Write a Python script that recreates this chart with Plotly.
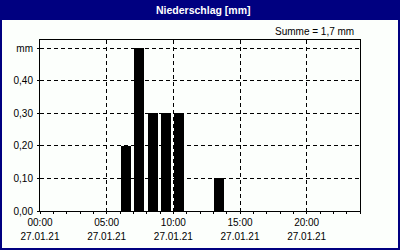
import plotly.graph_objects as go

# Data
times = ["2021-01-27 06:00", "2021-01-27 07:00", "2021-01-27 08:00",
         "2021-01-27 09:00", "2021-01-27 10:00", "2021-01-27 13:00"]
values = [0.2, 0.5, 0.3, 0.3, 0.3, 0.1]
y_tickvals = [0.0, 0.1, 0.2, 0.3, 0.4, 0.5]
y_ticktext = ["0,00", "0,10", "0,20", "0,30", "0,40", "mm"]
title_text = "Niederschlag [mm]"
sum_text = "Summe = 1,7 mm"

NAVY = "#000080"
BG = "#FCFFFC"
FONT = "Liberation Sans"
HOUR = 3600000

W, H = 400, 250
L, R, T, B = 40, 40, 40, 39

def px_x(p):
    return (p - L) / (W - L - R)

def px_y(p):
    return (H - B - p) / (H - T - B)

fig = go.Figure()
fig.add_trace(go.Bar(
    x=times, y=values, width=[0.75 * HOUR] * len(times), offset=0.07 * HOUR,
    marker=dict(color="black", line=dict(width=0)), hoverinfo="skip",
    xaxis="x", yaxis="y",
))
fig.add_trace(go.Scatter(
    x=times, y=values, mode="markers", marker=dict(opacity=0),
    hoverinfo="skip", xaxis="x2", yaxis="y", showlegend=False,
))

grid_dash = "4px,3px"
xrange = ["2021-01-27 00:00", "2021-01-28 00:00"]

fig.update_layout(
    width=W, height=H,
    margin=dict(l=L, r=R, t=T, b=B, pad=0, autoexpand=False),
    paper_bgcolor=BG, plot_bgcolor="rgba(0,0,0,0)",
    showlegend=False, bargap=0,
    separators=",.",
    font=dict(family=FONT, size=10, color="black"),
    xaxis=dict(
        type="date", range=xrange, tick0="2021-01-27 00:00", dtick=5 * HOUR,
        tickformat="%H:%M", showgrid=True, gridcolor="black", gridwidth=1,
        griddash=grid_dash, showline=True, mirror=True, linecolor="black",
        linewidth=1, ticks="outside", ticklen=2, tickcolor="black",
        minor=dict(dtick=HOUR, tick0="2021-01-27 00:00", ticks="outside",
                   ticklen=2, tickcolor="black", showgrid=False),
        zeroline=False, fixedrange=True, ticklabelstandoff=0,
        automargin=False,
    ),
    xaxis2=dict(
        type="date", overlaying="x", matches="x", anchor="y", side="bottom",
        tick0="2021-01-27 00:00", dtick=5 * HOUR, tickformat="%d.%m.%y",
        showgrid=False, showline=False, ticks="", ticklabelstandoff=18,
        zeroline=False, automargin=False,
    ),
    yaxis=dict(
        range=[0, 0.525], tickvals=y_tickvals, ticktext=y_ticktext,
        showgrid=True, gridcolor="black", gridwidth=1, griddash=grid_dash,
        showline=True, mirror=True, linecolor="black", linewidth=1,
        ticks="outside", ticklen=2, tickcolor="black", zeroline=False,
        ticklabelstandoff=2, fixedrange=True, automargin=False,
    ),
    shapes=[
        dict(type="rect", xref="paper", yref="paper", layer="below",
             x0=px_x(0), x1=px_x(W), y0=px_y(20), y1=px_y(0),
             fillcolor=NAVY, line=dict(width=0)),
        dict(type="rect", xref="paper", yref="paper", layer="below",
             x0=px_x(1), x1=px_x(W - 1), y0=px_y(H - 1), y1=px_y(1),
             fillcolor="rgba(0,0,0,0)", line=dict(color=NAVY, width=2)),
    ],
    annotations=[
        dict(text="<b>" + title_text + "</b>", xref="paper", yref="paper",
             x=px_x(203), y=px_y(10), xanchor="center", yanchor="middle",
             showarrow=False, font=dict(family=FONT, size=10.5, color="white")),
        dict(text=sum_text, xref="paper", yref="paper",
             x=px_x(356), y=px_y(31), xanchor="right", yanchor="middle",
             showarrow=False, font=dict(family=FONT, size=10, color="black")),
    ],
)

fig.write_html("out.html", config={"displayModeBar": False})
